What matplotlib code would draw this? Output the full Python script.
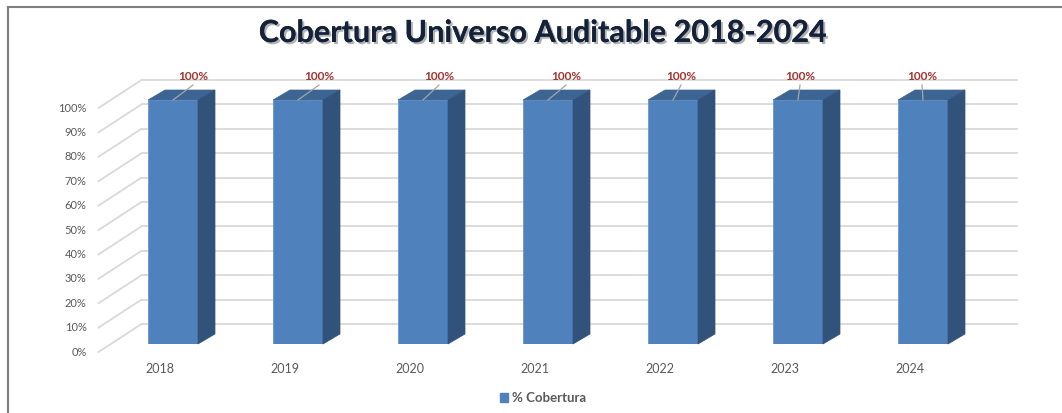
import matplotlib
matplotlib.use('Agg')
import matplotlib.pyplot as plt
from matplotlib.transforms import offset_copy, IdentityTransform
from matplotlib.patches import Polygon, Patch
from matplotlib.lines import Line2D
import matplotlib.patheffects as pe

plt.rcParams['font.family'] = ['Lato', 'DejaVu Sans']

# datos
years = ['2018', '2019', '2020', '2021', '2022', '2023', '2024']
cobertura = [100, 100, 100, 100, 100, 100, 100]
yticks = [0, 10, 20, 30, 40, 50, 60, 70, 80, 90, 100]
ytick_labels = [f'{v}%' for v in yticks]
serie = '% Cobertura'
titulo = 'Cobertura Universo Auditable 2018-2024'

# desplazamiento horizontal de las etiquetas de datos (px)
label_dx = [20, 21, 16, 18, 8, 2, -1]

W, H = 1062, 413
fig = plt.figure(figsize=(W / 100, H / 100), dpi=100)
fig.patch.set_facecolor('white')

# plano frontal de las barras
ax = fig.add_axes([110.5 / W, (H - 344) / H, 875 / W, 244 / H])
ax.set_xlim(-0.5, 6.5)
ax.set_ylim(0, 100)
ax.axis('off')

grid_c = '#D9D9D9'
front_c = '#4F81BD'
side_c = '#31527B'
top_c = '#3C6594'
txt_c = '#595959'

wall_tr = offset_copy(ax.transData, fig=fig, x=31, y=20, units='dots')
front_tr = offset_copy(ax.transData, fig=fig, x=-12, y=-8, units='dots')
ident = IdentityTransform()

# pared del fondo + lineas laterales
for v in yticks:
    ax.plot([-0.5, 6.5], [v, v], color=grid_c, lw=1.3, transform=wall_tr,
            clip_on=False, zorder=1)
    p1 = front_tr.transform((-0.5, v))
    p2 = wall_tr.transform((-0.5, v))
    ax.add_line(Line2D([p1[0], p2[0]], [p1[1], p2[1]], color=grid_c, lw=1.3,
                       transform=ident, zorder=1, clip_on=False))

tick_tr = offset_copy(ax.transData, fig=fig, x=-24, y=-8, units='dots')
for v, lab in zip(yticks, ytick_labels):
    ax.text(-0.5, v, lab, transform=tick_tr, ha='right', va='center',
            fontsize=8, color=txt_c, clip_on=False)

# barras 3D
bw = 0.4
dx, dy = 17, 10
x = list(range(len(years)))
bars = ax.bar(x, cobertura, width=bw, color=front_c, edgecolor='#6C97CC',
              linewidth=0.6, zorder=3)
for i, v in zip(x, cobertura):
    bl = ax.transData.transform((i - bw / 2, v))
    br = ax.transData.transform((i + bw / 2, v))
    b0 = ax.transData.transform((i + bw / 2, 0))
    top = Polygon([bl, br, (br[0] + dx, br[1] + dy), (bl[0] + dx, bl[1] + dy)],
                  closed=True, facecolor=top_c, edgecolor=top_c, lw=0.5,
                  transform=ident, zorder=3, clip_on=False)
    side = Polygon([b0, br, (br[0] + dx, br[1] + dy), (b0[0] + dx, b0[1] + dy)],
                   closed=True, facecolor=side_c, edgecolor=side_c, lw=0.5,
                   transform=ident, zorder=3, clip_on=False)
    ax.add_patch(top)
    ax.add_patch(side)

    # etiqueta de datos con linea guia
    c = ax.transData.transform((i, v))
    ldx = label_dx[i]
    ax.add_line(Line2D([c[0], c[0] + ldx], [c[1], c[1] + 15], color='#A6A6A6',
                       lw=0.9, transform=ident, zorder=4, clip_on=False))
    ax.text(c[0] + ldx, c[1] + 24, f'{v}%', transform=ident, ha='center',
            va='center', fontsize=8.5, fontweight='bold', color='#A3332F')

# etiquetas del eje x
year_tr = offset_copy(ax.transData, fig=fig, x=-13, y=-25, units='dots')
for i, yr in zip(x, years):
    ax.text(i, 0, yr, transform=year_tr, ha='center', va='center',
            fontsize=9, color=txt_c, clip_on=False)

# titulo
fig.text(542 / W, 1 - 33 / H, titulo, ha='center', va='center', fontsize=22,
         fontweight='bold', color='#14213A',
         path_effects=[pe.withSimplePatchShadow(offset=(1.5, -1.5),
                                                shadow_rgbFace='#7F7F7F',
                                                alpha=0.6), pe.Normal()])

# leyenda
fig.legend(handles=[Patch(color=front_c, label=serie)], loc='center',
           bbox_to_anchor=(543 / W, 1 - 398 / H), frameon=False,
           handlelength=0.6, handleheight=0.6, handletextpad=0.3,
           prop={'size': 9.5, 'weight': 'bold'}, labelcolor=txt_c)

# marco
fig.add_artist(Line2D([8 / W, 1], [1 - 7 / H, 1 - 7 / H], color='#7F7F7F',
                      lw=1.5, transform=fig.transFigure))
fig.add_artist(Line2D([8 / W, 8 / W], [1 - 7 / H, 0], color='#7F7F7F',
                      lw=1.5, transform=fig.transFigure))

fig.savefig('out.png', dpi=100, facecolor='white')
